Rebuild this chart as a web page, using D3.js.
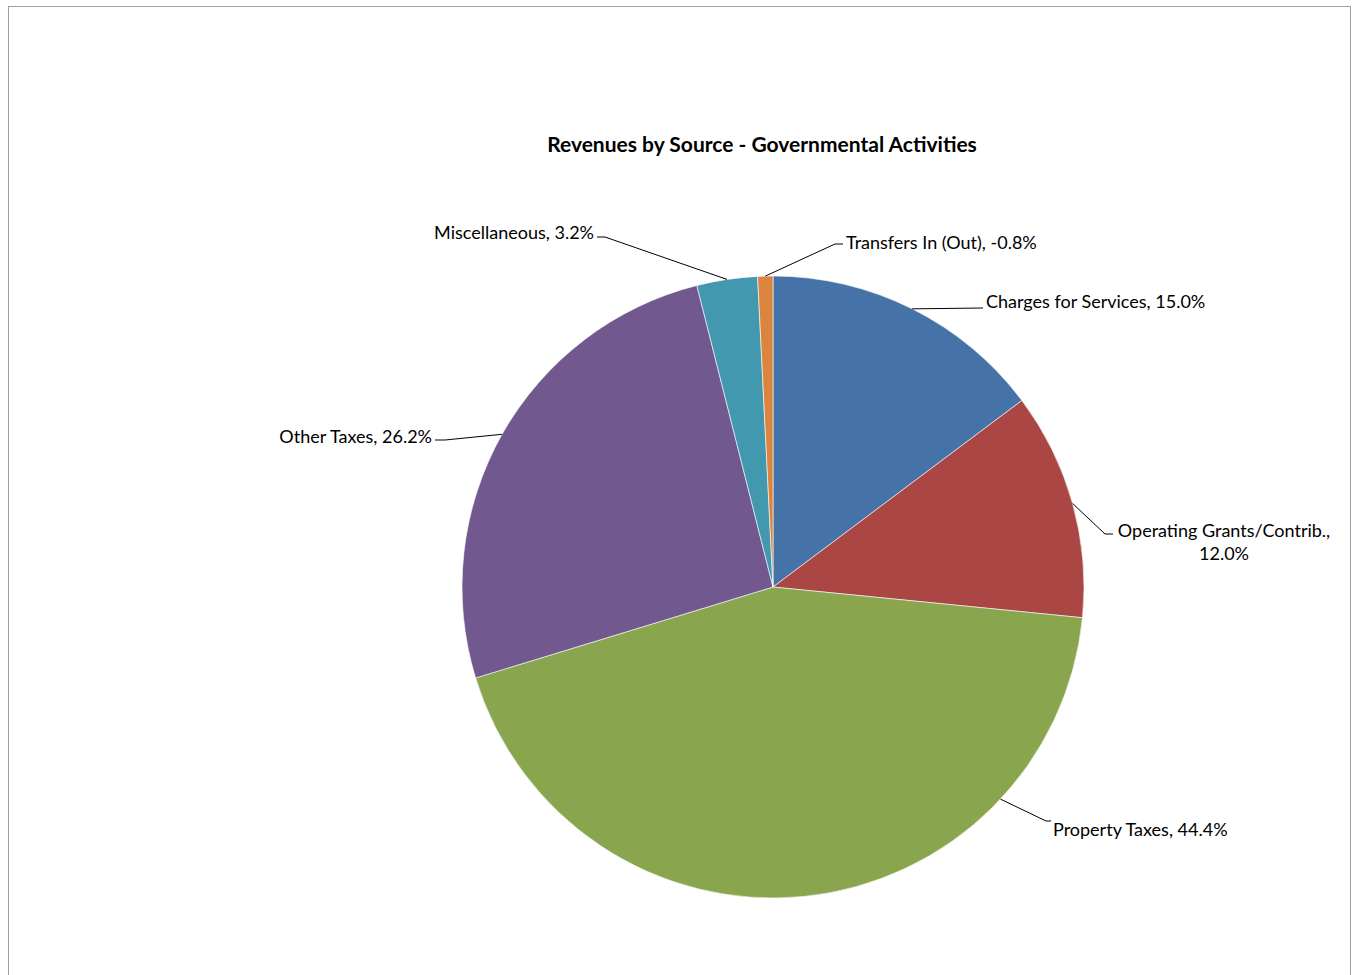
<!DOCTYPE html>
<html><head><meta charset="utf-8">
<script src="https://cdn.jsdelivr.net/npm/d3@7"></script>
<style>body{margin:0;background:#fff;} svg{display:block;}</style>
</head><body>
<svg id="chart" width="1353" height="975"></svg>
<script>
const categories = ["Charges for Services","Operating Grants/Contrib.","Property Taxes","Other Taxes","Miscellaneous","Transfers In (Out)"];
const values = [15.0, 12.0, 44.4, 26.2, 3.2, -0.8];
const colors = ["#4572A7","#AA4643","#89A54E","#71588F","#4198AF","#DB843D"];
const title = "Revenues by Source - Governmental Activities";

// label layout (offsets relative to pie centre): leader angle (deg, null = mid), elbow, end, text pos, anchor
const labelLayout = [
  {ang:null, pts:[[210,-279]], tx:213, ty:-284, anchor:"start"},
  {ang:null, pts:[[332,-53],[340,-53]], tx:451, ty:-55, anchor:"middle", lines:2},
  {ang:133, pts:[[273,234],[278,234]], tx:280, ty:244, anchor:"start"},
  {ang:null, pts:[[-328,-147],[-338,-147]], tx:-341, ty:-149, anchor:"end"},
  {ang:null, pts:[[-168,-350],[-176,-350]], tx:-179, ty:-353, anchor:"end"},
  {ang:null, pts:[[62,-343],[70,-343]], tx:73, ty:-343, anchor:"start"}
];

const svg = d3.select("#chart");
// chart border
svg.append("rect").attr("x",8.5).attr("y",6.5).attr("width",1342).attr("height",990)
  .attr("fill","#fff").attr("stroke","#a0a0a0").attr("stroke-width",1);

svg.append("text").attr("x",762).attr("y",147).attr("text-anchor","middle")
  .attr("dominant-baseline","middle")
  .attr("font-family","Lato, 'Open Sans', sans-serif").attr("font-weight","bold")
  .attr("font-size",21).attr("fill","#000").text(title);

const cx = 773, cy = 587, R = 311;
const data = categories.map((c,i)=>({cat:c, value:values[i], color:colors[i], layout:labelLayout[i]}));
const pie = d3.pie().sort(null).value(d=>Math.abs(d.value));
const arcs = pie(data);
const arc = d3.arc().innerRadius(0).outerRadius(R);
const g = svg.append("g").attr("transform",`translate(${cx},${cy})`);
g.selectAll("path.slice").data(arcs).join("path").attr("class","slice")
  .attr("d",arc).attr("fill",d=>d.data.color).attr("stroke","#ffffff").attr("stroke-width",0.6);

const fmt = v => v.toFixed(1);
arcs.forEach(a=>{
  const L = a.data.layout;
  const ang = L.ang==null ? (a.startAngle+a.endAngle)/2 : L.ang*Math.PI/180;
  const start = [R*Math.sin(ang), -R*Math.cos(ang)];
  const pts = [start].concat(L.pts);
  g.append("path").attr("d",d3.line()(pts)).attr("fill","none").attr("stroke","#000").attr("stroke-width",1);
  const label = `${a.data.cat}, ${fmt(a.data.value)}%`;
  const t = g.append("text").attr("x",L.tx).attr("y",L.ty).attr("text-anchor",L.anchor)
    .attr("font-family","Lato, 'Open Sans', sans-serif").attr("font-size",18).attr("fill","#000")
    .attr("dominant-baseline","middle");
  if (L.lines===2){
    t.append("tspan").attr("x",L.tx).attr("dy",0).text(`${a.data.cat},`);
    t.append("tspan").attr("x",L.tx).attr("dy",23).text(`${fmt(a.data.value)}%`);
  } else t.text(label);
});
</script>
</body></html>
